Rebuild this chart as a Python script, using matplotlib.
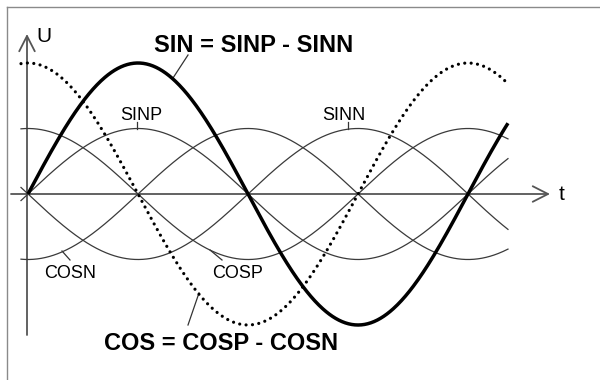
import numpy as np
import matplotlib
matplotlib.use("Agg")
import matplotlib.pyplot as plt
from matplotlib.lines import Line2D

plt.rcParams['font.family'] = ['Liberation Sans', 'DejaVu Sans']

# ---- data: signal components (amplitude, phase offset in rad) ----
names = ["SIN", "COS", "SINP", "SINN", "COSP", "COSN"]
amplitudes = [1.0, 1.0, 0.5, 0.5, 0.5, 0.5]
phases = [0.0, np.pi / 2, 0.0, np.pi, np.pi / 2, -np.pi / 2]
t_start_thin = -0.1
t_start_sin = 0.0
t_end = 6.854
title_sin = "SIN = SINP - SINN"
title_cos = "COS = COSP - COSN"
axis_labels = ["U", "t"]

# ---- layout (pixel mapping) ----
W, H = 600, 380
ox, oy = 28, 194          # origin pixel
kx = 220 / np.pi          # px per rad
ky = 131                  # px per unit amplitude

def P(xp, yp):
    return ((xp - ox) / kx, (oy - yp) / ky)

fig = plt.figure(figsize=(W / 100, H / 100), dpi=100)
ax = fig.add_axes([0, 0, 1, 1])
ax.set_xlim((0 - ox) / kx, (W - ox) / kx)
ax.set_ylim((oy - H) / ky, oy / ky)
ax.axis('off')

# border (left and top visible)
fig.add_artist(Line2D([7 / W, 7 / W], [0, 1 - 7 / H], color='#8a8a8a', lw=1.0))
fig.add_artist(Line2D([7 / W, 1], [1 - 7 / H, 1 - 7 / H], color='#8a8a8a', lw=1.0))

axc = '#555555'
# axes with open arrowheads
ax.annotate('', xy=P(550, 194), xytext=P(11, 194),
            arrowprops=dict(arrowstyle='->,head_length=0.55,head_width=0.28',
                            mutation_scale=20, color=axc, lw=1.3,
                            shrinkA=0, shrinkB=0))
ax.annotate('', xy=P(27, 34), xytext=P(27, 335),
            arrowprops=dict(arrowstyle='->,head_length=0.55,head_width=0.28',
                            mutation_scale=20, color=axc, lw=1.3,
                            shrinkA=0, shrinkB=0))

t_thin = np.linspace(t_start_thin, t_end, 600)
t_sin = np.linspace(t_start_sin, t_end, 600)

for n, a, ph in zip(names, amplitudes, phases):
    if n == "SIN":
        ax.plot(t_sin, a * np.sin(t_sin + ph), color='black', lw=2.5,
                solid_capstyle='butt', zorder=5)
    elif n == "COS":
        ax.plot(t_thin, a * np.sin(t_thin + ph), color='black', lw=2.3,
                linestyle=(0, (0.01, 2.0)), dash_capstyle='round', zorder=4)
    else:
        ax.plot(t_thin, a * np.sin(t_thin + ph), color='#3a3a3a', lw=0.9, zorder=3)

# texts
ax.text(*P(44, 36), axis_labels[0], fontsize=15, ha='center', va='center')
ax.text(*P(562, 195), axis_labels[1], fontsize=15, ha='center', va='center')
ax.text(*P(254, 45), title_sin, fontsize=17, fontweight='bold', ha='center', va='center')
ax.text(*P(221, 344), title_cos, fontsize=17, fontweight='bold', ha='center', va='center')
ax.text(*P(141, 115), "SINP", fontsize=13, ha='center', va='center')
ax.text(*P(344, 115), "SINN", fontsize=13, ha='center', va='center')
ax.text(*P(70, 273), "COSN", fontsize=13, ha='center', va='center')
ax.text(*P(238, 273), "COSP", fontsize=13, ha='center', va='center')

# pointer lines
pc = '#333333'
for (x1, y1), (x2, y2) in [((188, 55), (173, 78)), ((137, 122), (137, 129)),
                           ((348, 122), (348, 129)), ((62, 251), (70, 260)),
                           ((210, 250), (222, 260)), ((199, 293), (188, 325))]:
    a1, b1 = P(x1, y1)
    a2, b2 = P(x2, y2)
    ax.plot([a1, a2], [b1, b2], color=pc, lw=0.9)

fig.savefig("out.png", dpi=100)
